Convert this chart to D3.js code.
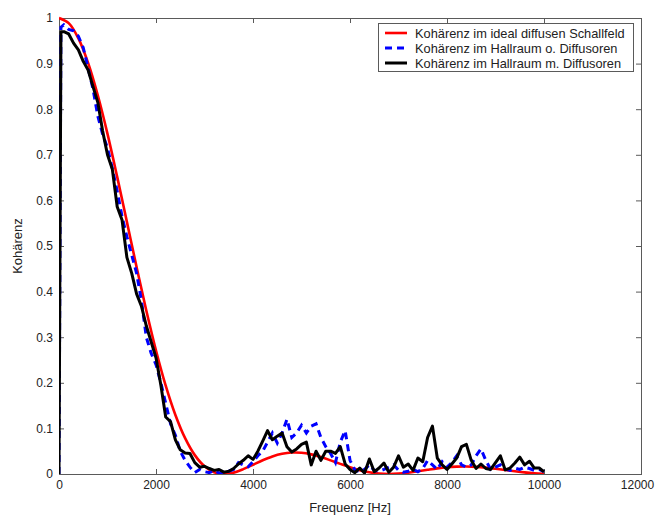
<!DOCTYPE html>
<html>
<head>
<meta charset="utf-8">
<script src="https://cdn.jsdelivr.net/npm/d3@7"></script>
<style>
  body { margin: 0; background: #fff; }
  svg { display: block; font-family: "Liberation Sans", Arial, sans-serif; }
</style>
</head>
<body>
<div id="chart"></div>
<script>
// frequency grid of the measured curves (Hz)
const freqHz = [0, 40].concat(d3.range(100, 10001, 100));
// frequency grid of the theoretical curve (Hz)
const freqIdeal = d3.range(0, 10001, 200);

const seriesNames = [
  "Kohärenz im ideal diffusen Schallfeld",
  "Kohärenz im Hallraum o. Diffusoren",
  "Kohärenz im Hallraum m. Diffusoren"
];

const ideal = [
  1, 0.9887, 0.9554, 0.9015, 0.8306, 0.746, 0.6516, 0.5529, 0.4537, 0.3585,
  0.2709, 0.1938, 0.1295, 0.0786, 0.0414, 0.017, 0.0039, 0, 0.003, 0.0106,
  0.0203, 0.0301, 0.0385, 0.0443, 0.047, 0.0465, 0.043, 0.0372, 0.0299, 0.0222,
  0.0148, 0.0084, 0.0037, 0.0009, 0, 0.0008, 0.0029, 0.0059, 0.0092, 0.0123,
  0.0147, 0.0161, 0.0165, 0.0157, 0.014, 0.0116, 0.0088, 0.006, 0.0035, 0.0016,
  0.0004
];

const ohneDiffusoren = [
  0, 0.98,
  0.985, 0.975, 0.972, 0.96, 0.935, 0.89, 0.845, 0.785, 0.745, 0.715,
  0.67, 0.62, 0.565, 0.52, 0.48, 0.44, 0.38, 0.3, 0.265, 0.24,
  0.2, 0.155, 0.11, 0.085, 0.05, 0.03, 0.015, 0.003, 0.01, 0.005,
  0.003, 0.008, 0.002, 0.004, 0.006, 0.01, 0.025, 0.02, 0.016, 0.027,
  0.04, 0.05, 0.07, 0.09, 0.068, 0.09, 0.12, 0.08, 0.09, 0.107,
  0.09, 0.105, 0.11, 0.08, 0.06, 0.045, 0.025, 0.07, 0.095, 0.03,
  0.009, 0.005, 0.01, 0.02, 0.008, 0.006, 0.01, 0.015, 0.02, 0.008,
  0.004, 0.006, 0.01, 0.005, 0.012, 0.03, 0.02, 0.01, 0.027, 0.015,
  0.025, 0.04, 0.02, 0.015, 0.02, 0.04, 0.055, 0.03, 0.01, 0.015,
  0.02, 0.01, 0.008, 0.013, 0.01, 0.015, 0.012, 0.008, 0.01, 0.005
];

const mitDiffusoren = [
  0, 0.97,
  0.97, 0.965, 0.945, 0.93, 0.905, 0.886, 0.85, 0.815, 0.752, 0.7,
  0.668, 0.586, 0.557, 0.475, 0.44, 0.395, 0.368, 0.325, 0.29, 0.255,
  0.195, 0.125, 0.115, 0.075, 0.053, 0.046, 0.045, 0.025, 0.015, 0.017,
  0.012, 0.008, 0.01, 0.004, 0.006, 0.012, 0.022, 0.03, 0.04, 0.032,
  0.05, 0.072, 0.095, 0.075, 0.083, 0.09, 0.06, 0.048, 0.055, 0.065,
  0.07, 0.02, 0.05, 0.03, 0.05, 0.05, 0.045, 0.06, 0.022, 0.01,
  0.003, 0.013, 0.002, 0.033, 0.005, 0.013, 0.024, 0.004, 0.015, 0.04,
  0.015, 0.022, 0.008, 0.035, 0.027, 0.08, 0.105, 0.035, 0.02, 0.01,
  0.022, 0.035, 0.06, 0.065, 0.03, 0.012, 0.022, 0.012, 0.01, 0.025,
  0.04, 0.009, 0.013, 0.024, 0.037, 0.02, 0.028, 0.013, 0.013, 0.005
];

const xTicks = [0, 2000, 4000, 6000, 8000, 10000, 12000];
const yTicks = [0, 0.1, 0.2, 0.3, 0.4, 0.5, 0.6, 0.7, 0.8, 0.9, 1];

const W = 656, H = 518;
const margin = { top: 18, right: 15, bottom: 44, left: 59 };
const width = W - margin.left - margin.right;
const height = H - margin.top - margin.bottom;

const svg = d3.select("#chart").append("svg")
  .attr("width", W)
  .attr("height", H);

const g = svg.append("g")
  .attr("transform", `translate(${margin.left},${margin.top})`);

const x = d3.scaleLinear().domain([0, 12000]).range([0, width]);
const y = d3.scaleLinear().domain([0, 1]).range([height, 0]);

const axisColor = "#5a5a5a";

function styleAxis(sel) {
  sel.select(".domain").remove();
  sel.selectAll(".tick line").attr("stroke", axisColor);
  sel.selectAll(".tick text").attr("fill", "#222").style("font-size", "12px");
}

// axes with inward ticks (box on all sides)
const xAxisG = g.append("g")
  .attr("transform", `translate(0,${height})`)
  .call(d3.axisBottom(x).tickValues(xTicks).tickFormat(d3.format("d"))
    .tickSizeInner(-5).tickSizeOuter(0).tickPadding(6))
  .call(styleAxis);

// keep the last label inside the picture, like the original
xAxisG.selectAll(".tick text")
  .filter(d => d === 12000)
  .attr("dx", -4);

g.append("g")
  .call(d3.axisTop(x).tickValues(xTicks).tickFormat("")
    .tickSizeInner(-5).tickSizeOuter(0))
  .call(styleAxis);

g.append("g")
  .call(d3.axisLeft(y).tickValues(yTicks).tickFormat(d3.format("~g"))
    .tickSizeInner(-5).tickSizeOuter(0).tickPadding(6))
  .call(styleAxis);

g.append("g")
  .attr("transform", `translate(${width},0)`)
  .call(d3.axisRight(y).tickValues(yTicks).tickFormat("")
    .tickSizeInner(-5).tickSizeOuter(0))
  .call(styleAxis);

g.append("rect")
  .attr("x", 0).attr("y", 0)
  .attr("width", width).attr("height", height)
  .attr("fill", "none")
  .attr("stroke", axisColor)
  .attr("stroke-width", 1)
  .attr("shape-rendering", "crispEdges");

// clip for curves
svg.append("defs").append("clipPath").attr("id", "plotclip")
  .append("rect").attr("x", 0).attr("y", -2).attr("width", width).attr("height", height + 2);

const plot = g.append("g").attr("clip-path", "url(#plotclip)");

const lineIdeal = d3.line()
  .x((d, i) => x(freqIdeal[i]))
  .y(d => y(d))
  .curve(d3.curveCatmullRom);

const lineMeas = d3.line()
  .x((d, i) => x(freqHz[i]))
  .y(d => y(d));

plot.append("path")
  .attr("d", lineIdeal(ideal))
  .attr("fill", "none")
  .attr("stroke", "#ff0000")
  .attr("stroke-width", 2.6);

plot.append("path")
  .attr("d", lineMeas(ohneDiffusoren))
  .attr("fill", "none")
  .attr("stroke", "#0000ff")
  .attr("stroke-width", 3)
  .attr("stroke-dasharray", "7,5");

plot.append("path")
  .attr("d", lineMeas(mitDiffusoren))
  .attr("fill", "none")
  .attr("stroke", "#000000")
  .attr("stroke-width", 3)
  .attr("stroke-linejoin", "round");

// axis labels
svg.append("text")
  .attr("x", margin.left + width / 2)
  .attr("y", 512)
  .attr("text-anchor", "middle")
  .style("font-size", "13px")
  .attr("fill", "#222")
  .text("Frequenz [Hz]");

svg.append("text")
  .attr("transform", `translate(22,${margin.top + height / 2}) rotate(-90)`)
  .attr("text-anchor", "middle")
  .style("font-size", "13px")
  .attr("fill", "#222")
  .text("Kohärenz");

// legend
const legend = svg.append("g").attr("transform", "translate(378,23)");
legend.append("rect")
  .attr("width", 255).attr("height", 48)
  .attr("fill", "#fff")
  .attr("stroke", axisColor)
  .attr("shape-rendering", "crispEdges");

const legendStyles = [
  { color: "#ff0000", dash: null, w: 2.6 },
  { color: "#0000ff", dash: "7,5", w: 3 },
  { color: "#000000", dash: null, w: 3 }
];

seriesNames.forEach((name, i) => {
  const ly = 10 + i * 15;
  legend.append("line")
    .attr("x1", 7).attr("x2", 29)
    .attr("y1", ly).attr("y2", ly)
    .attr("stroke", legendStyles[i].color)
    .attr("stroke-width", legendStyles[i].w)
    .attr("stroke-dasharray", legendStyles[i].dash);
  legend.append("text")
    .attr("x", 37).attr("y", ly + 4.5)
    .style("font-size", "12.8px")
    .attr("fill", "#222")
    .text(name);
});
</script>
</body>
</html>
